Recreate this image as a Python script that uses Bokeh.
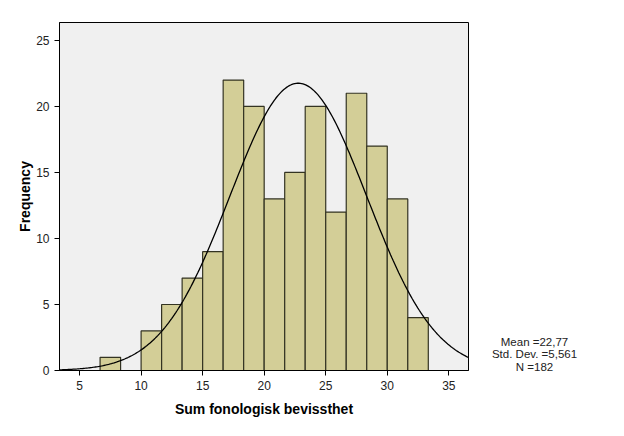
import numpy as np
from bokeh.plotting import figure
from bokeh.models import Range1d, FixedTicker
from bokeh.layouts import row
from bokeh.core.properties import value
from bokeh.embed import file_html
from bokeh.resources import INLINE

# Histogram data (bin edges and frequencies)
bin_width = 5 / 3
bin_left = [6.667, 8.333, 10.0, 11.667, 13.333, 15.0, 16.667, 18.333, 20.0,
            21.667, 23.333, 25.0, 26.667, 28.333, 30.0, 31.667]
counts = [1, 0, 3, 5, 7, 9, 22, 20, 13, 15, 20, 12, 21, 17, 13, 4]

mean_val = 22.77
std_val = 5.561
n_val = 182

x_ticks = [5, 10, 15, 20, 25, 30, 35]
y_ticks = [0, 5, 10, 15, 20, 25]
legend_lines = ["Mean =22,77", "Std. Dev. =5,561", "N =182"]

FONT = "Liberation Sans"

p = figure(width=470, height=436, output_backend="svg", toolbar_location=None,
           x_range=Range1d(3.37, 36.6), y_range=Range1d(0, 26.36),
           min_border_left=59, min_border_right=2, min_border_top=22,
           min_border_bottom=66)
p.background_fill_color = "#F0F0F0"
p.border_fill_color = "white"
p.outline_line_color = "black"
p.outline_line_width = 1
p.xgrid.visible = False
p.ygrid.visible = False

lefts = np.array(bin_left)
rights = lefts + bin_width
tops = np.array(counts)
mask = tops > 0
p.quad(left=lefts[mask], right=rights[mask], bottom=0, top=tops[mask],
       fill_color="#D3CE97", line_color="#333322", line_width=1.2)

# Normal curve fitted with given mean/sd, scaled to N * bin width
xs = np.linspace(3.37, 36.6, 300)
ys = n_val * bin_width / (std_val * np.sqrt(2 * np.pi)) * np.exp(-0.5 * ((xs - mean_val) / std_val) ** 2)
p.line(xs, ys, line_color="black", line_width=1.3)

for ax in (p.xaxis[0], p.yaxis[0]):
    ax.major_label_text_font = FONT
    ax.major_label_text_font_size = "12px"
    ax.major_label_text_color = "#222222"
    ax.axis_label_text_font = FONT
    ax.axis_label_text_font_style = "bold"
    ax.axis_label_text_font_size = "14px"
    ax.axis_label_text_color = "black"
    ax.minor_tick_line_color = None
    ax.major_tick_out = 5
    ax.major_tick_in = 0
    ax.axis_line_color = "black"
    ax.major_tick_line_color = "black"

p.xaxis[0].ticker = FixedTicker(ticks=x_ticks)
p.yaxis[0].ticker = FixedTicker(ticks=y_ticks)
p.xaxis[0].axis_label = "Sum fonologisk bevissthet"
p.yaxis[0].axis_label = "Frequency"
p.xaxis[0].axis_label_standoff = 8
p.yaxis[0].axis_label_standoff = 0

# Side panel with summary statistics (frame aligned with main frame top)
p2 = figure(frame_width=154, frame_height=436, output_backend="svg", toolbar_location=None,
            x_range=Range1d(0, 154), y_range=Range1d(436, 0),
            min_border_left=0, min_border_right=0, min_border_top=0,
            min_border_bottom=0)
p2.axis.visible = False
p2.grid.visible = False
p2.outline_line_color = None
p2.background_fill_color = "white"
p2.border_fill_color = "white"
p2.text(x=[64] * 3, y=[319, 331.5, 344], text=legend_lines,
        text_align="center", text_baseline="middle",
        text_font=value(FONT), text_font_size="11.5px", text_color="#222222")

layout = row(p, p2, spacing=0)
open("out.html", "w").write(file_html(layout, INLINE))
